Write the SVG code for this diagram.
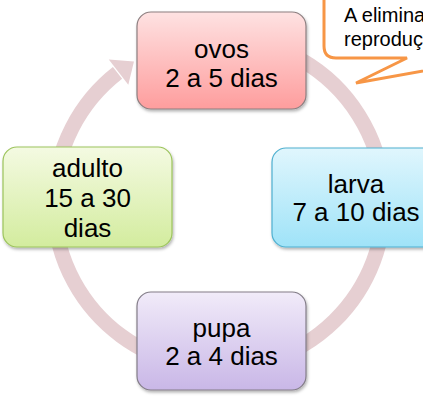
<svg xmlns="http://www.w3.org/2000/svg" width="423" height="396" viewBox="0 0 423 396">
  <defs>
    <linearGradient id="gOvos" x1="0" y1="0" x2="0" y2="1">
      <stop offset="0" stop-color="#fee2e2"/>
      <stop offset="1" stop-color="#fe9d9d"/>
    </linearGradient>
    <linearGradient id="gLarva" x1="0" y1="0" x2="0" y2="1">
      <stop offset="0" stop-color="#e0f6fd"/>
      <stop offset="1" stop-color="#9fe3f8"/>
    </linearGradient>
    <linearGradient id="gPupa" x1="0" y1="0" x2="0" y2="1">
      <stop offset="0" stop-color="#f1ebf9"/>
      <stop offset="1" stop-color="#c9b7e7"/>
    </linearGradient>
    <linearGradient id="gAdulto" x1="0" y1="0" x2="0" y2="1">
      <stop offset="0" stop-color="#f4fae2"/>
      <stop offset="1" stop-color="#d3ec9e"/>
    </linearGradient>
    <filter id="shadow" x="-10%" y="-10%" width="130%" height="130%">
      <feDropShadow dx="1" dy="2" stdDeviation="1.5" flood-color="#000" flood-opacity="0.3"/>
    </filter>
    <clipPath id="canvas"><rect x="0" y="0" width="423" height="396"/></clipPath>
  </defs>
  <style>
    .box { stroke-width: 1.2; filter: url(#shadow); }
    .lbl { font-family: "Liberation Sans", Arial, sans-serif; font-size: 26px; fill: #000; text-anchor: middle; }
    .note { font-family: "Liberation Sans", Arial, sans-serif; font-size: 20px; fill: #000; }
    .ring { fill: none; stroke: #e6cfd2; stroke-width: 15; }
  </style>

  <g id="connectors">
    <path class="ring" d="M 233.4 38.6 A 165 165 0 1 1 117.5 72.9"/>
    <polygon points="128.3,84.8 108.8,59.4 134,61.6" fill="#e6cfd2"/>
  </g>

  <g id="ovos">
    <rect class="box" x="137" y="12" width="169" height="97" rx="14" fill="url(#gOvos)" stroke="#8c7f80"/>
    <text class="lbl" x="221.5" y="58">ovos</text>
    <text class="lbl" x="221.5" y="87">2 a 5 dias</text>
  </g>

  <g id="larva">
    <rect class="box" x="272" y="148" width="169" height="99" rx="14" fill="url(#gLarva)" stroke="#4fb0d0"/>
    <text class="lbl" x="356" y="193">larva</text>
    <text class="lbl" x="356" y="221">7 a 10 dias</text>
  </g>

  <g id="pupa">
    <rect class="box" x="137" y="292" width="169" height="98" rx="14" fill="url(#gPupa)" stroke="#837d88"/>
    <text class="lbl" x="221.5" y="337">pupa</text>
    <text class="lbl" x="221.5" y="365">2 a 4 dias</text>
  </g>

  <g id="adulto">
    <rect class="box" x="3" y="147" width="169" height="100" rx="14" fill="url(#gAdulto)" stroke="#9cc45c"/>
    <text class="lbl" x="87.5" y="177">adulto</text>
    <text class="lbl" x="87.5" y="207">15 a 30</text>
    <text class="lbl" x="87.5" y="237">dias</text>
  </g>

  <g id="callout" clip-path="url(#canvas)">
    <path d="M 324 -20 L 324 46 Q 324 58 336 58 L 407 58 L 356 83 L 445 67 L 445 -20 Z" fill="#fff" stroke="#f79646" stroke-width="3" stroke-linejoin="miter"/>
    <text class="note" x="344" y="22">A elimina</text>
    <text class="note" x="344" y="46">reproduç</text>
  </g>
</svg>
